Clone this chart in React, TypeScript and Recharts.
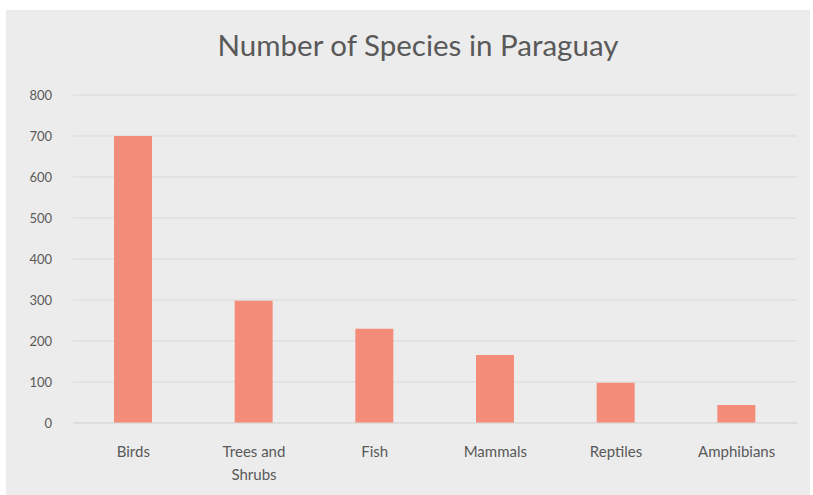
import { BarChart, Bar, XAxis, YAxis, CartesianGrid, Text } from 'recharts';

const categories = ['Birds', 'Trees and Shrubs', 'Fish', 'Mammals', 'Reptiles', 'Amphibians'];
const species = [700, 298, 230, 166, 98, 44];
const yTicks = [0, 100, 200, 300, 400, 500, 600, 700, 800];

const data = categories.map((name, i) => ({ name, value: species[i] }));

const labelColor = '#595959';

function CategoryTick(props: any) {
  const { x, y, payload } = props;
  return (
    <Text
      x={x}
      y={y}
      width={90}
      textAnchor="middle"
      verticalAnchor="start"
      lineHeight={23}
      fill={labelColor}
      fontSize={15}
      fontFamily="Lato, 'Open Sans', sans-serif"
    >
      {payload.value}
    </Text>
  );
}

export default function App() {
  return (
    <div
      style={{
        position: 'absolute',
        left: 6,
        top: 10,
        width: 804,
        height: 485,
        background: '#ececec',
        fontFamily: "Lato, 'Open Sans', sans-serif",
      }}
    >
      <div
        style={{
          position: 'absolute',
          top: 17,
          left: 0,
          width: 824,
          textAlign: 'center',
          fontSize: 29.5,
          color: labelColor,
        }}
      >
        Number of Species in Paraguay
      </div>
      <BarChart
        width={804}
        height={485}
        data={data}
        margin={{ top: 85, right: 13, bottom: 42, left: 7 }}
      >
        <CartesianGrid vertical={false} stroke="#d9d9d9" />
        <XAxis
          dataKey="name"
          axisLine={{ stroke: '#d9d9d9' }}
          tickLine={false}
          interval={0}
          tick={<CategoryTick />}
          tickMargin={17}
        />
        <YAxis
          width={60}
          domain={[0, 800]}
          ticks={yTicks}
          axisLine={false}
          tickLine={false}
          tickMargin={15}
          tick={{ fill: labelColor, fontSize: 13 }}
        />
        <Bar dataKey="value" fill="#f38d7a" barSize={38} isAnimationActive={false} />
      </BarChart>
    </div>
  );
}
